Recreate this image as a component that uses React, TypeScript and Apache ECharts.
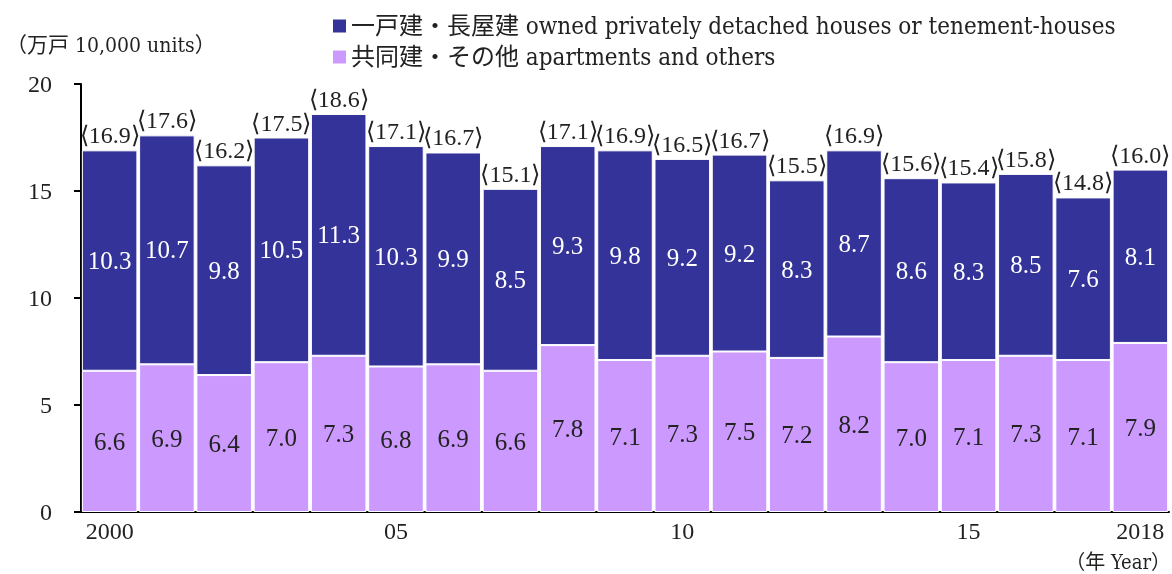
import React, { useEffect, useRef } from "react";
import * as echarts from "echarts";

const years = ["2000","2001","2002","2003","2004","2005","2006","2007","2008","2009","2010","2011","2012","2013","2014","2015","2016","2017","2018"];
const tickLabels: Record<string, string> = { "2000": "2000", "2005": "05", "2010": "10", "2015": "15", "2018": "2018" };
const detached = [10.3, 10.7, 9.8, 10.5, 11.3, 10.3, 9.9, 8.5, 9.3, 9.8, 9.2, 9.2, 8.3, 8.7, 8.6, 8.3, 8.5, 7.6, 8.1];
const apartments = [6.6, 6.9, 6.4, 7.0, 7.3, 6.8, 6.9, 6.6, 7.8, 7.1, 7.3, 7.5, 7.2, 8.2, 7.0, 7.1, 7.3, 7.1, 7.9];
const totals = [16.9, 17.6, 16.2, 17.5, 18.6, 17.1, 16.7, 15.1, 17.1, 16.9, 16.5, 16.7, 15.5, 16.9, 15.6, 15.4, 15.8, 14.8, 16.0];

const nameDetached = "一戸建・長屋建 owned privately detached houses or tenement-houses";
const nameApart = "共同建・その他 apartments and others";
const FONT = "'Liberation Serif', 'Noto Sans CJK JP', serif";
const LEGEND_FONT = "'DejaVu Serif Condensed', 'Liberation Serif', 'Noto Sans CJK JP', serif";

export default function App() {
  const ref = useRef<HTMLDivElement>(null);
  useEffect(() => {
    if (!ref.current) return;
    const chart = echarts.init(ref.current, undefined, { renderer: "svg" });
    chart.setOption({
      animation: false,
      textStyle: { fontFamily: FONT },
      grid: { left: 81, right: 3, top: 84, bottom: 62 },
      legend: {
        orient: "vertical",
        left: 328,
        top: 9,
        itemWidth: 13,
        itemHeight: 13,
        itemGap: 7,
        itemStyle: { borderWidth: 0 },
        icon: "rect",
        textStyle: { fontSize: 24, color: "#222", fontFamily: LEGEND_FONT },
        data: [nameDetached, nameApart],
      },
      xAxis: {
        type: "category",
        data: years,
        axisLine: { lineStyle: { color: "#000", width: 2 } },
        axisTick: { show: false },
        axisLabel: {
          interval: 0,
          formatter: (v: string) => tickLabels[v] || "",
          fontSize: 24,
          color: "#222",
          margin: 7,
          fontFamily: FONT,
        },
      },
      yAxis: {
        type: "value",
        min: 0,
        max: 20,
        interval: 5,
        splitLine: { show: false },
        axisLine: { show: true, lineStyle: { color: "#000", width: 2 } },
        axisTick: { show: true, inside: false, length: 7, lineStyle: { color: "#000", width: 2 } },
        axisLabel: { fontSize: 24, color: "#222", margin: 29, fontFamily: FONT },
      },
      series: [
        {
          name: nameApart,
          type: "bar",
          stack: "t",
          data: apartments,
          barCategoryGap: "3%",
          itemStyle: { color: "#CC99FF", borderColor: "#fff", borderWidth: 1 },
          label: {
            show: true,
            position: "inside",
            color: "#222",
            fontSize: 25,
            fontFamily: FONT,
            formatter: (p: any) => p.value.toFixed(1),
          },
        },
        {
          name: nameDetached,
          type: "bar",
          stack: "t",
          data: detached,
          barCategoryGap: "3%",
          itemStyle: { color: "#333399", borderColor: "#fff", borderWidth: 1 },
          label: {
            show: true,
            position: "inside",
            color: "#fff",
            fontSize: 25,
            fontFamily: FONT,
            formatter: (p: any) => p.value.toFixed(1),
          },
        },
        {
          name: "total",
          type: "bar",
          stack: "t",
          data: totals.map(() => 0),
          barCategoryGap: "3%",
          itemStyle: { color: "transparent" },
          label: {
            show: true,
            position: "top",
            distance: 3,
            color: "#222",
            fontSize: 24,
            fontFamily: FONT,
            formatter: (p: any) => "⟨" + totals[p.dataIndex].toFixed(1) + "⟩",
          },
        },
      ],
      graphic: [
        {
          type: "text",
          left: 6,
          top: 34,
          style: { text: "（万戸 10,000 units）", fontSize: 21, fill: "#222", fontFamily: LEGEND_FONT },
        },
        {
          type: "text",
          right: 1,
          top: 552,
          style: { text: "（年 Year）", fontSize: 20, fill: "#222", fontFamily: LEGEND_FONT },
        },
      ],
    });
    return () => chart.dispose();
  }, []);
  return <div ref={ref} style={{ position: "fixed", left: 0, top: 0, width: 1172, height: 574 }} />;
}
